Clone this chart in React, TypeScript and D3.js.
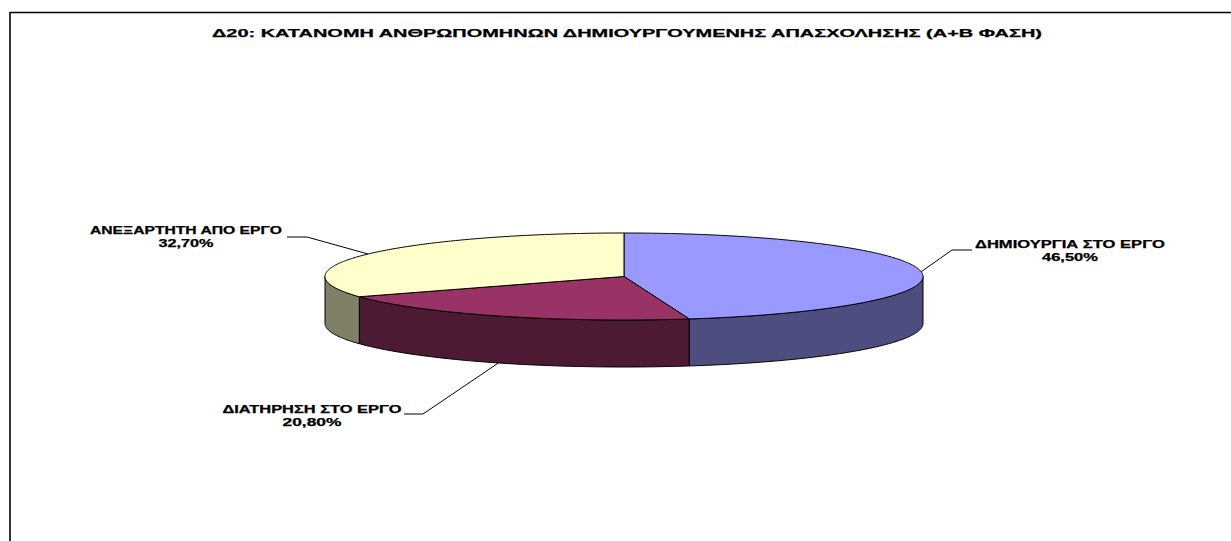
import React from "react";
import * as d3 from "d3";

const TITLE = "Δ20: ΚΑΤΑΝΟΜΗ ΑΝΘΡΩΠΟΜΗΝΩΝ ΔΗΜΙΟΥΡΓΟΥΜΕΝΗΣ ΑΠΑΣΧΟΛΗΣΗΣ (Α+Β ΦΑΣΗ)";
const categories = ["ΔΗΜΙΟΥΡΓΙΑ ΣΤΟ ΕΡΓΟ", "ΔΙΑΤΗΡΗΣΗ ΣΤΟ ΕΡΓΟ", "ΑΝΕΞΑΡΤΗΤΗ ΑΠΟ ΕΡΓΟ"];
const values = [46.5, 20.8, 32.7];
const valueLabels = ["46,50%", "20,80%", "32,70%"];
const topColors = ["#9999FF", "#993366", "#FFFFCC"];
const sideColors = ["#4D4D80", "#4D1A33", "#808066"];

const W = 1231;
const H = 541;
const cx = 624;
const cy = 276.5;
const rx = 299;
const ry = 43.5;
const depth = 47;

const px = (a: number) => cx + rx * Math.sin(a);
const py = (a: number) => cy - ry * Math.cos(a);

function arcPoints(a0: number, a1: number, dy = 0): [number, number][] {
  const n = Math.max(2, Math.ceil(Math.abs(a1 - a0) / 0.01));
  return d3.range(n + 1).map((i) => {
    const a = a0 + ((a1 - a0) * i) / n;
    return [px(a), py(a) + dy] as [number, number];
  });
}

const line = d3.line<[number, number]>();

const labelCfg = [
  { x: 1070, y: 248, w1: 190, w2: 56, leader: (p: [number, number]) => [p, [952, 250], [972, 250]] },
  { x: 312, y: 413, w1: 179, w2: 59, leader: (p: [number, number]) => [p, [423, 414], [404, 414]] },
  { x: 186, y: 234, w1: 192, w2: 55, leader: (p: [number, number]) => [p, [307, 237], [287, 237]] },
];

export default function App() {
  const pie = d3.pie<number>().sort(null).startAngle(0).endAngle(2 * Math.PI);
  const arcs = pie(values);

  const frontStart = Math.PI / 2;
  const frontEnd = (3 * Math.PI) / 2;

  const sides = arcs
    .map((a, i) => {
      const s = Math.max(a.startAngle, frontStart);
      const e = Math.min(a.endAngle, frontEnd);
      if (e <= s) return null;
      const top = arcPoints(s, e, 0);
      const bottom = arcPoints(e, s, depth);
      return { i, d: line([...top, ...bottom])! + "Z" };
    })
    .filter(Boolean) as { i: number; d: string }[];

  const tops = arcs.map((a, i) => {
    const pts = arcPoints(a.startAngle, a.endAngle, 0);
    return { i, d: line([[cx, cy], ...pts])! + "Z" };
  });

  const font = "'Liberation Sans', Arial, sans-serif";
  const textProps = {
    fontFamily: font,
    fontWeight: "bold" as const,
    stroke: "#000",
    strokeWidth: 0.25,
    textAnchor: "middle" as const,
    lengthAdjust: "spacingAndGlyphs",
  };

  return (
    <svg
      width={W}
      height={H}
      style={{ position: "absolute", left: 0, top: 0, background: "#fff" }}
    >
      <rect x={0} y={0} width={W} height={H} fill="#fff" />
      <line x1={10} y1={12.5} x2={W} y2={12.5} stroke="#000" strokeWidth={1.6} />
      <line x1={10} y1={12} x2={10} y2={H} stroke="#000" strokeWidth={1.6} />
      <text x={627} y={37} fontSize={10.8} textLength={830} {...textProps}>
        {TITLE}
      </text>
      {sides.map((s) => (
        <path key={"s" + s.i} d={s.d} fill={sideColors[s.i]} stroke="#000" strokeWidth={1} strokeLinejoin="round" />
      ))}
      {tops.map((t) => (
        <path key={"t" + t.i} d={t.d} fill={topColors[t.i]} stroke="#000" strokeWidth={1} strokeLinejoin="round" />
      ))}
      {arcs.map((a, i) => {
        const mid = (a.startAngle + a.endAngle) / 2;
        const onFront = mid > frontStart && mid < frontEnd && i === 1;
        const p: [number, number] = [px(mid), py(mid) + (onFront ? depth : 0)];
        const cfg = labelCfg[i];
        const pts = cfg.leader(p) as [number, number][];
        return (
          <g key={"l" + i}>
            <path d={line(pts)!} fill="none" stroke="#000" strokeWidth={1} />
            <text x={cfg.x} y={cfg.y} fontSize={10.3} textLength={cfg.w1} {...textProps}>
              {categories[i]}
            </text>
            <text x={cfg.x} y={cfg.y + 13} fontSize={10.3} textLength={cfg.w2} {...textProps}>
              {valueLabels[i]}
            </text>
          </g>
        );
      })}
    </svg>
  );
}
